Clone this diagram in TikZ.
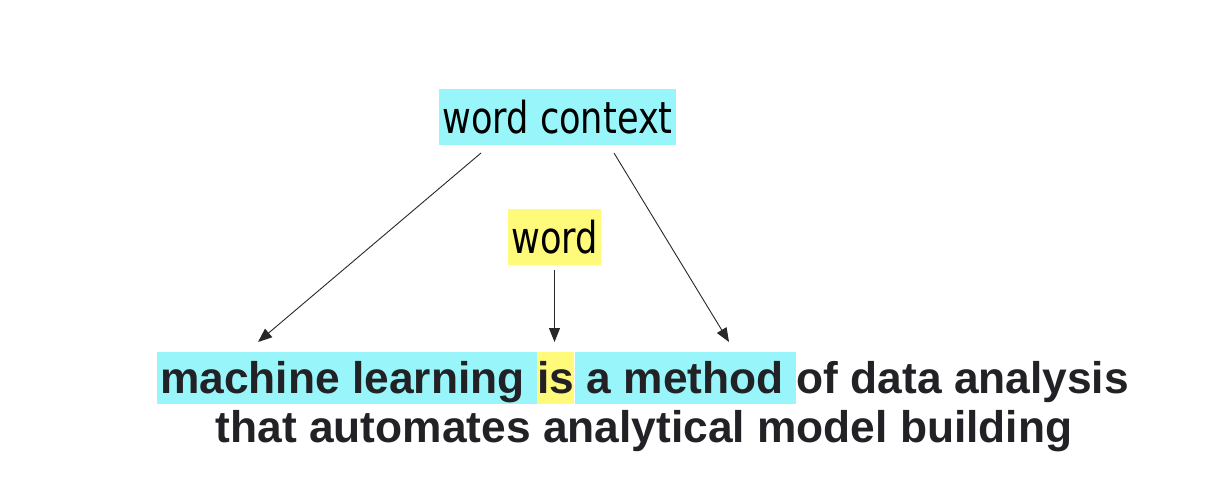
\documentclass[tikz,border=0pt]{standalone}
\usepackage{fontspec}
\setmainfont{Liberation Sans}
\newfontfamily\topfont[FakeStretch=0.8]{DejaVu Sans}
\newfontfamily\botfont{Liberation Sans}
\usetikzlibrary{arrows.meta}
\definecolor{hlcyan}{RGB}{152,246,250}
\definecolor{hlyellow}{RGB}{255,250,122}
\definecolor{bottxt}{RGB}{34,34,38}
\definecolor{arrowc}{RGB}{40,40,40}
\newcommand{\wsp}{\hspace*{0.278em}}
\tikzset{
  toplabel/.style={font=\topfont\fontsize{44pt}{50pt}\selectfont, text=black,
    inner xsep=3.5pt, inner ysep=0pt, text height=44pt, text depth=12pt},
  botword/.style={font=\botfont\bfseries\fontsize{44.3pt}{50pt}\selectfont, text=bottxt,
    inner sep=0pt, text height=41pt, text depth=11pt, anchor=base west},
  conn/.style={draw=arrowc, line width=0.9pt, -{Triangle[length=14pt,width=11pt]}}
}
\begin{document}
\begin{tikzpicture}[x=1pt,y=-1pt]
\useasboundingbox (0,0) rectangle (1208,496);
\fill[white] (0,0) rectangle (1208,496);
% top labels
\node[toplabel, fill=hlcyan, anchor=base] (wc) at (557.5,133) {word context};
\node[toplabel, fill=hlyellow, anchor=base] (wd) at (554.5,253) {word};
% bottom sentence, line 1
\node[botword, fill=hlcyan] (ml) at (157,393) {\hspace*{3pt}machine learning\wsp};
\node[botword, fill=hlyellow] (is) at (ml.base east) {is};
\node[botword, fill=hlcyan] (am) at (is.base east) {\wsp a method\wsp};
\node[botword] (rest) at (am.base east) {of data analysis};
% line 2
\node[botword, anchor=base] (l2) at (644,442) {that automates analytical model building};
% connector end points
\coordinate (wcL) at (481,153);
\coordinate (wcR) at (614,153);
\coordinate (mlT) at (258,342);
\coordinate (amT) at (729,342);
\coordinate (isT) at (554.5,342);
\draw[conn] (wcL) -- (mlT);
\draw[conn] (wcR) -- (amT);
\draw[conn, shorten <=5pt] (wd.south) -- (isT);
\end{tikzpicture}
\end{document}
